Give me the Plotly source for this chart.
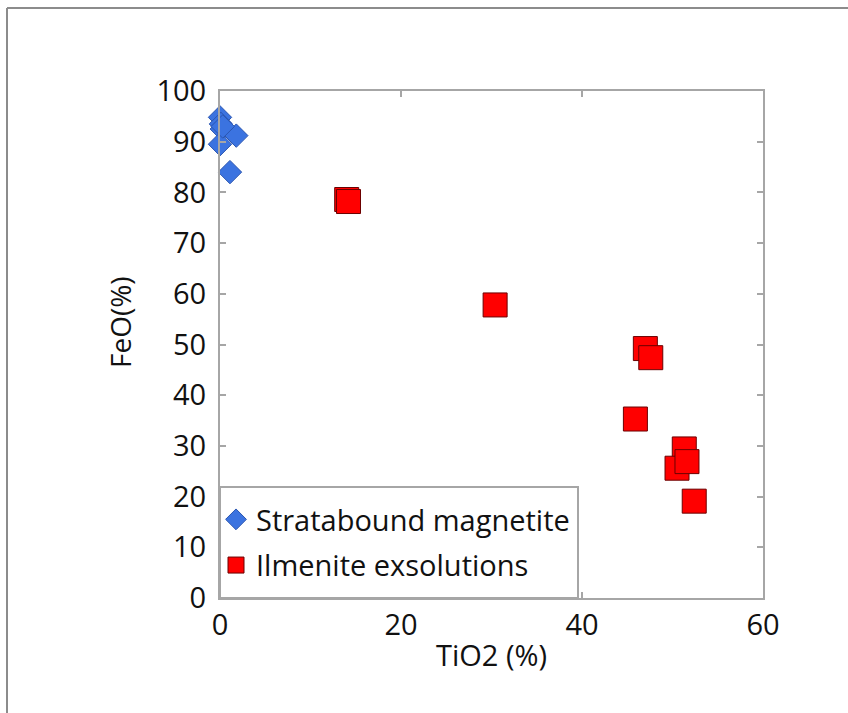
import plotly.graph_objects as go

# Stratabound magnetite
mag_tio2 = [0.0, 0.1, 0.2, 0.0, 1.8, 1.1, 0.3]
mag_feo = [94.8, 93.5, 92.5, 89.5, 91.2, 84.0, 93.0]

# Ilmenite exsolutions
ilm_tio2 = [14.0, 14.2, 30.4, 47.0, 47.6, 45.9, 51.3, 50.5, 51.6, 52.4]
ilm_feo = [78.6, 78.2, 57.8, 49.2, 47.4, 35.3, 29.4, 25.6, 26.9, 19.1]

x_ticks = [0, 20, 40, 60]
y_ticks = [0, 10, 20, 30, 40, 50, 60, 70, 80, 90, 100]

FONT = "Open Sans"
AX = "#a6a6a6"
PW, PH = 543, 507  # plot area size in px

fig = go.Figure()
fig.add_trace(go.Scatter(
    x=mag_tio2, y=mag_feo, mode="markers", name="Stratabound magnetite",
    legendgroup="a",
    marker=dict(symbol="diamond", size=18, color="#3b73e0",
                line=dict(color="#2a55b0", width=1)),
    cliponaxis=False,
))
fig.add_trace(go.Scatter(
    x=ilm_tio2, y=ilm_feo, mode="markers", name="Ilmenite exsolutions",
    legendgroup="b",
    marker=dict(symbol="square", size=24, color="#ff0000",
                line=dict(color="#6b0000", width=1)),
    cliponaxis=False,
))

fig.update_layout(
    width=848, height=713,
    margin=dict(l=220, r=85, t=91, b=115),
    paper_bgcolor="white", plot_bgcolor="white",
    font=dict(family=FONT, color="#111111", size=29),
    showlegend=True,
    legend=dict(x=-4 / PW, y=(598 - 494) / PH, xanchor="left", yanchor="top",
                bgcolor="rgba(0,0,0,0)", borderwidth=0,
                font=dict(size=29, family=FONT), itemsizing="trace",
                tracegroupgap=5, itemwidth=30),
    xaxis=dict(range=[0, 60], tickvals=x_ticks, ticks="inside", ticklen=6,
               tickcolor=AX, tickwidth=2, showline=True, linecolor=AX,
               linewidth=2, mirror="ticks", showgrid=False, zeroline=False,
               tickfont=dict(size=29, family=FONT),
               title=dict(text="TiO2 (%)", font=dict(size=29, family=FONT),
                          standoff=4)),
    yaxis=dict(range=[0, 100], tickvals=y_ticks, ticks="inside", ticklen=6,
               tickcolor=AX, tickwidth=2, showline=True, linecolor=AX,
               linewidth=2, mirror="ticks", showgrid=False, zeroline=False,
               tickfont=dict(size=29, family=FONT), ticklabelstandoff=6),
    shapes=[
        # outer figure frame (left and top edges visible)
        dict(type="line", xref="paper", yref="paper",
             x0=-213 / PW, x1=-213 / PW, y0=-120 / PH, y1=(713 - 8 - 115) / PH,
             line=dict(color="#8c8c8c", width=2), layer="below"),
        dict(type="line", xref="paper", yref="paper",
             x0=-213 / PW, x1=(850 - 220) / PW,
             y0=(713 - 8 - 115) / PH, y1=(713 - 8 - 115) / PH,
             line=dict(color="#8c8c8c", width=2), layer="below"),
        # legend box
        dict(type="rect", xref="paper", yref="paper",
             x0=0, x1=(578 - 220) / PW, y0=0, y1=(598 - 487) / PH,
             fillcolor="white", line=dict(color=AX, width=2), layer="above"),
    ],
    annotations=[dict(text="FeO(%)", textangle=-90, xref="paper", yref="paper",
                      x=-100 / PW, y=(598 - 322) / PH, xanchor="center",
                      yanchor="middle", showarrow=False,
                      font=dict(size=28, family=FONT))],
)

fig.write_html("out.html")
